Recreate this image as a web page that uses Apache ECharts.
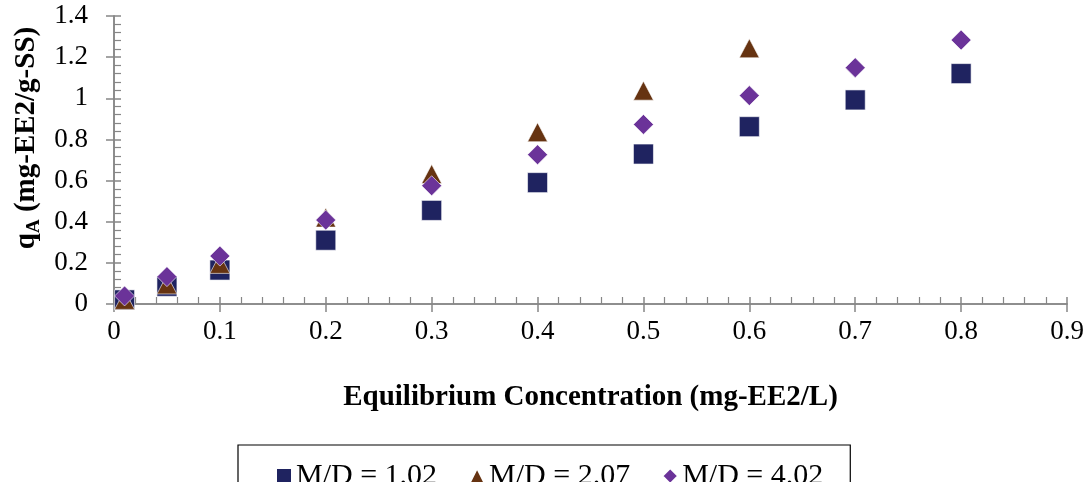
<!DOCTYPE html>
<html><head><meta charset="utf-8">
<script src="https://cdn.jsdelivr.net/npm/echarts@6/dist/echarts.min.js"></script>
<style>html,body{margin:0;padding:0;background:#fff}#c{width:1089px;height:482px}</style>
</head><body><div id="c"></div>
<script>
const xTicks = [0, 0.1, 0.2, 0.3, 0.4, 0.5, 0.6, 0.7, 0.8, 0.9];
const yTicks = [0, 0.2, 0.4, 0.6, 0.8, 1, 1.2, 1.4];
const seriesNames = ['M/D = 1.02', 'M/D = 2.07', 'M/D = 4.02'];
const xMD102 = [0.01, 0.05, 0.1, 0.2, 0.3, 0.4, 0.5, 0.6, 0.7, 0.8];
const yMD102 = [0.02, 0.086, 0.165, 0.31, 0.455, 0.59, 0.729, 0.862, 0.992, 1.12];
const xMD207 = [0.01, 0.05, 0.1, 0.2, 0.3, 0.4, 0.5, 0.6];
const yMD207 = [0.02, 0.095, 0.195, 0.42, 0.632, 0.835, 1.037, 1.243];
const xMD402 = [0.01, 0.05, 0.1, 0.2, 0.3, 0.4, 0.5, 0.6, 0.7, 0.8];
const yMD402 = [0.039, 0.133, 0.233, 0.408, 0.575, 0.726, 0.873, 1.013, 1.149, 1.283];

const FONT = '"Liberation Serif", "DejaVu Serif", serif';
const axisColor = '#868686';
const pairs = (xs, ys) => xs.map((x, i) => [x, ys[i]]);
const fmt = v => String(parseFloat(v.toFixed(2)));

const chart = echarts.init(document.getElementById('c'));
const baseX = {
  type: 'value', min: xTicks[0], max: xTicks[xTicks.length - 1], interval: 0.1,
  splitLine: { show: false },
  axisLine: { onZero: false, lineStyle: { color: axisColor, width: 1.5 } }
};
const baseY = {
  type: 'value', min: yTicks[0], max: yTicks[yTicks.length - 1], interval: 0.2,
  splitLine: { show: false },
  axisLine: { onZero: false, lineStyle: { color: axisColor, width: 1.5 } }
};
chart.setOption({
  animation: false,
  backgroundColor: '#fff',
  grid: { left: 114, right: 22, top: 16, bottom: 178, containLabel: false },
  xAxis: [
    Object.assign({}, baseX, {
      position: 'bottom',
      axisTick: { show: true, length: 8, lineStyle: { color: axisColor, width: 1.5 } },
      axisLabel: { color: '#000', fontFamily: FONT, fontSize: 27, margin: 14, formatter: fmt },
      name: 'Equilibrium Concentration (mg-EE2/L)',
      nameLocation: 'middle', nameGap: 79,
      nameTextStyle: { color: '#000', fontFamily: FONT, fontSize: 29, fontWeight: 'bold' }
    }),
    Object.assign({}, baseX, {
      position: 'bottom',
      axisTick: { show: true, inside: true, length: 7, lineStyle: { color: axisColor, width: 1.5 } },
      minorTick: { show: true, splitNumber: 5, length: 7, lineStyle: { color: axisColor, width: 1.2 } },
      axisLabel: { show: false }
    })
  ],
  yAxis: [
    Object.assign({}, baseY, {
      position: 'left',
      axisTick: { show: true, length: 8, lineStyle: { color: axisColor, width: 1.5 } },
      axisLabel: { color: '#000', fontFamily: FONT, fontSize: 27, margin: 26, formatter: fmt }
    }),
    Object.assign({}, baseY, {
      position: 'left',
      axisTick: { show: true, inside: true, length: 7, lineStyle: { color: axisColor, width: 1.5 } },
      minorTick: { show: true, splitNumber: 5, length: 7, lineStyle: { color: axisColor, width: 1.2 } },
      axisLabel: { show: false }
    })
  ],
  graphic: [{
    type: 'text', x: 27, y: 138, rotation: Math.PI / 2,
    style: {
      text: '{q|q}{s|A}{t| (mg-EE2/g-SS)}',
      align: 'center', verticalAlign: 'middle',
      rich: {
        q: { fontFamily: FONT, fontSize: 29, fontWeight: 'bold', fill: '#000' },
        s: { fontFamily: FONT, fontSize: 19, fontWeight: 'bold', fill: '#000', padding: [14, 0, 0, 0] },
        t: { fontFamily: FONT, fontSize: 29, fontWeight: 'bold', fill: '#000' }
      }
    }
  }],
  legend: {
    left: 238, top: 445,
    padding: [16, 27, 10, 37],
    borderColor: '#000', borderWidth: 1.2,
    itemGap: 31, itemWidth: 16, itemHeight: 16,
    textStyle: { color: '#000', fontFamily: FONT, fontSize: 30, padding: [0, 0, 0, -1] },
    data: [
      { name: seriesNames[0], icon: 'rect' },
      { name: seriesNames[1], icon: 'triangle' },
      { name: seriesNames[2], icon: 'diamond' }
    ]
  },
  series: [
    { name: seriesNames[0], type: 'scatter', symbol: 'rect', symbolSize: 20,
      itemStyle: { color: '#1F2360', borderColor: '#fff', borderWidth: 0.6, opacity: 1 },
      data: pairs(xMD102, yMD102), z: 2 },
    { name: seriesNames[1], type: 'scatter', symbol: 'triangle', symbolSize: [20, 19],
      itemStyle: { color: '#663311', borderColor: '#fff', borderWidth: 0.6, opacity: 1 },
      data: pairs(xMD207, yMD207), z: 3 },
    { name: seriesNames[2], type: 'scatter', symbol: 'diamond', symbolSize: [20, 20],
      itemStyle: { color: '#6B3399', borderColor: '#fff', borderWidth: 0.6, opacity: 1 },
      data: pairs(xMD402, yMD402), z: 4 }
  ]
});
</script></body></html>
